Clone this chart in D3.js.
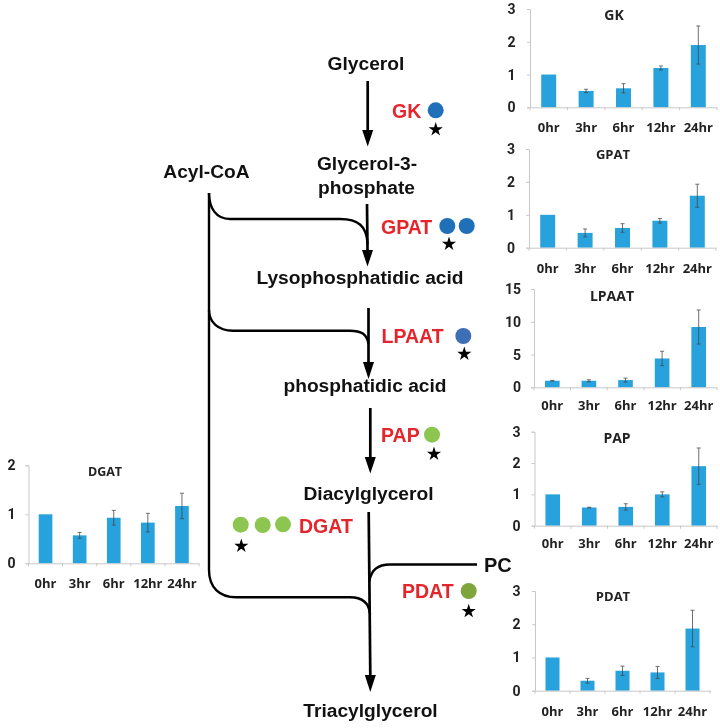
<!DOCTYPE html>
<html><head><meta charset="utf-8">
<script src="https://cdn.jsdelivr.net/npm/d3@7"></script>
<style>
html,body{margin:0;padding:0;background:#fff}
svg{display:block;filter:blur(0.35px)}
</style></head><body><svg id="c" width="720" height="728"></svg>
<script>
const hours = ["0hr","3hr","6hr","12hr","24hr"];
const gkValues = [1,0.5,0.58,1.2,1.9];
const gkErrors = [0,0.05,0.14,0.06,0.58];
const gpatValues = [1,0.45,0.6,0.82,1.58];
const gpatErrors = [0,0.12,0.13,0.07,0.35];
const lpaatValues = [1,1,1.1,4.4,9.2];
const lpaatErrors = [0.05,0.15,0.3,1.1,2.6];
const papValues = [1,0.58,0.6,1,1.9];
const papErrors = [0,0.01,0.1,0.08,0.58];
const pdatValues = [1,0.3,0.6,0.55,1.87];
const pdatErrors = [0,0.07,0.14,0.18,0.55];
const dgatValues = [1,0.57,0.93,0.83,1.17];
const dgatErrors = [0,0.06,0.15,0.19,0.26];
const ticks3 = [0,1,2,3], ticks15 = [0,5,10,15], ticks2 = [0,1,2];

const panels = [
 {t:"GK",v:gkValues,e:gkErrors,ticks:ticks3,x0:530,x1:717,y0:107.3,y1:9,tx:614,ty:20,ts:14,xb:132,yp:14.5},
 {t:"GPAT",v:gpatValues,e:gpatErrors,ticks:ticks3,x0:529,x1:716,y0:247.7,y1:149,tx:613,ty:158.5,ts:13,xb:273,yp:14},
 {t:"LPAAT",v:lpaatValues,e:lpaatErrors,ticks:ticks15,x0:534,x1:717,y0:387.3,y1:289,tx:612,ty:300.5,ts:14,xb:410,yp:13},
 {t:"PAP",v:papValues,e:papErrors,ticks:ticks3,x0:534.5,x1:717,y0:525.7,y1:431.7,tx:617,ty:443,ts:14,xb:548,yp:14},
 {t:"PDAT",v:pdatValues,e:pdatErrors,ticks:ticks3,x0:535,x1:710,y0:690.7,y1:591,tx:613,ty:601,ts:13,xb:716.5,yp:14.5},
 {t:"DGAT",v:dgatValues,e:dgatErrors,ticks:ticks2,x0:28.5,x1:199,y0:563.3,y1:465.3,tx:105,ty:475.5,ts:12.5,xb:588,yp:13}
];
const svg = d3.select("#c");
const chartFont = "'Open Sans','Noto Sans',sans-serif";
const tickFont = "Roboto,'Open Sans',sans-serif";
const diagFont = "'Liberation Sans',Arial,sans-serif";

panels.forEach(p=>{
  const x = d3.scaleBand().domain(hours).range([p.x0,p.x1]).paddingInner(0.6).paddingOuter(0.3);
  const y = d3.scaleLinear().domain([0,d3.max(p.ticks)]).range([p.y0,p.y1]);
  const g = svg.append("g");
  const data = hours.map((h,i)=>({h,v:p.v[i],e:p.e[i]}));
  g.selectAll(".bar").data(data).join("rect").attr("fill","#27a2dc")
    .attr("x",d=>x(d.h)).attr("width",x.bandwidth())
    .attr("y",d=>y(d.v)).attr("height",d=>y(0)-y(d.v));
  const ya = g.append("g").attr("transform",`translate(${p.x0},0)`)
    .call(d3.axisLeft(y).tickValues(p.ticks).tickSize(3).tickPadding(p.yp-3).tickFormat(d3.format("d")));
  ya.selectAll("text").attr("font-size",14).attr("font-weight",700).attr("font-family",tickFont).attr("fill","#222");
  const xa = g.append("g").attr("transform",`translate(0,${p.y0})`)
    .call(d3.axisBottom(x).tickSize(0).tickPadding(p.xb-p.y0-11));
  xa.selectAll("text").attr("font-size",13).attr("font-weight",700).attr("font-family",chartFont).attr("fill","#222").attr("dy",0).attr("y",p.xb-p.y0);
  [ya,xa].forEach(a=>a.selectAll("path,line").attr("stroke","#c8c8c8"));
  g.selectAll(".edge").data(d3.range(hours.length+1)).join("line")
    .attr("x1",i=>p.x0+i*x.step()).attr("x2",i=>p.x0+i*x.step())
    .attr("y1",p.y0).attr("y2",p.y0+3).attr("stroke","#c8c8c8");
  const eb = g.selectAll(".err").data(data.filter(d=>d.e>0)).join("g").attr("stroke","#444").attr("stroke-width",0.9).attr("opacity",0.85);
  const mid = d=>x(d.h)+x.bandwidth()/2;
  eb.append("line").attr("x1",mid).attr("x2",mid).attr("y1",d=>y(d.v+d.e)).attr("y2",d=>y(d.v-d.e));
  [1,-1].forEach(s=>eb.append("line").attr("x1",d=>mid(d)-2).attr("x2",d=>mid(d)+2)
    .attr("y1",d=>y(d.v+s*d.e)).attr("y2",d=>y(d.v+s*d.e)));
  g.append("text").text(p.t).attr("x",p.tx).attr("y",p.ty).attr("text-anchor","middle")
    .attr("font-size",p.ts).attr("font-weight",700).attr("font-family",chartFont).attr("fill","#222");
});

// pathway diagram
const metabolites = [
 ["Glycerol",366,69.5],["Glycerol-3-",367,170],["phosphate",366.5,194],["Acyl-CoA",206.5,177.5],
 ["Lysophosphatidic acid",360,284],["phosphatidic acid",365,391.5],["Diacylglycerol",368.5,500],["Triacylglycerol",370.5,716.5]
];
svg.selectAll(".met").data(metabolites).join("text").text(d=>d[0]).attr("x",d=>d[1]).attr("y",d=>d[2])
  .attr("text-anchor","middle").attr("font-family",diagFont).attr("font-weight",700).attr("font-size",19.2).attr("fill","#111");
svg.append("text").text("PC").attr("x",484).attr("y",571.5).attr("font-family",diagFont).attr("font-weight",700).attr("font-size",20).attr("fill","#111");

const enzymes = [["GK",392,118],["GPAT",381,234],["LPAAT",381.5,342.5],["PAP",381,441.5],["DGAT",299,533],["PDAT",402,598]];
svg.selectAll(".enz").data(enzymes).join("text").text(d=>d[0]).attr("x",d=>d[1]).attr("y",d=>d[2])
  .attr("font-family",diagFont).attr("font-weight",700).attr("font-size",19.5).attr("fill","#e4252b");

const dots = [[435.7,110.3,"#1f6fb9"],[447.3,226,"#1f6fb9"],[466.7,226,"#1f6fb9"],[463.3,336,"#3d6fb6"],
 [432,434.7,"#8cc550"],[240.7,524.7,"#8cc550"],[262.7,525,"#8cc550"],[283,524.3,"#8cc550"],[468.7,591,"#7fa53c"]];
svg.selectAll(".dot").data(dots).join("circle").attr("cx",d=>d[0]).attr("cy",d=>d[1]).attr("r",8).attr("fill",d=>d[2]);

const stars = [[435.7,129.5],[449,244],[464.3,354],[434,454],[241.3,546],[468.7,611.3]];
const star = d3.symbol(d3.symbolStar,62);
svg.selectAll(".star").data(stars).join("path").attr("d",star).attr("fill","#000")
  .attr("transform",d=>`translate(${d[0]},${d[1]})`);

const curves = [
 "M209,193 C209,208 216,219 230,219 L340,219 C358,219 367,226 367.5,244",
 "M209,310 C209,322 218,330.7 233,330.7 L350,330.7 C361,330.7 367,334 368.5,344",
 "M209,193 L209,570 C209,588 220,597.3 236,597.3 L350,597.3 C362,597.3 369,603 370,614",
 "M477,564.5 L390,564.5 C378,564.5 371,570 369.5,581"
];
svg.selectAll(".curve").data(curves).join("path").attr("d",d=>d).attr("fill","none").attr("stroke","#000").attr("stroke-width",2.4);

const arrows = [[367.7,81,367.7,130,146.5],[367,204,367.5,250,266.5],[368.5,308,368.5,362,379],[370.3,408,370.3,457,473.5],[368.7,512,370.3,675,692]];
arrows.forEach(a=>{
  svg.append("line").attr("x1",a[0]).attr("y1",a[1]).attr("x2",a[2]).attr("y2",a[3]).attr("stroke","#000").attr("stroke-width",2.7);
  svg.append("path").attr("d",`M${a[2]-5.5},${a[3]} L${a[2]+5.5},${a[3]} L${a[2]},${a[4]} Z`).attr("fill","#000");
});
</script></body></html>
